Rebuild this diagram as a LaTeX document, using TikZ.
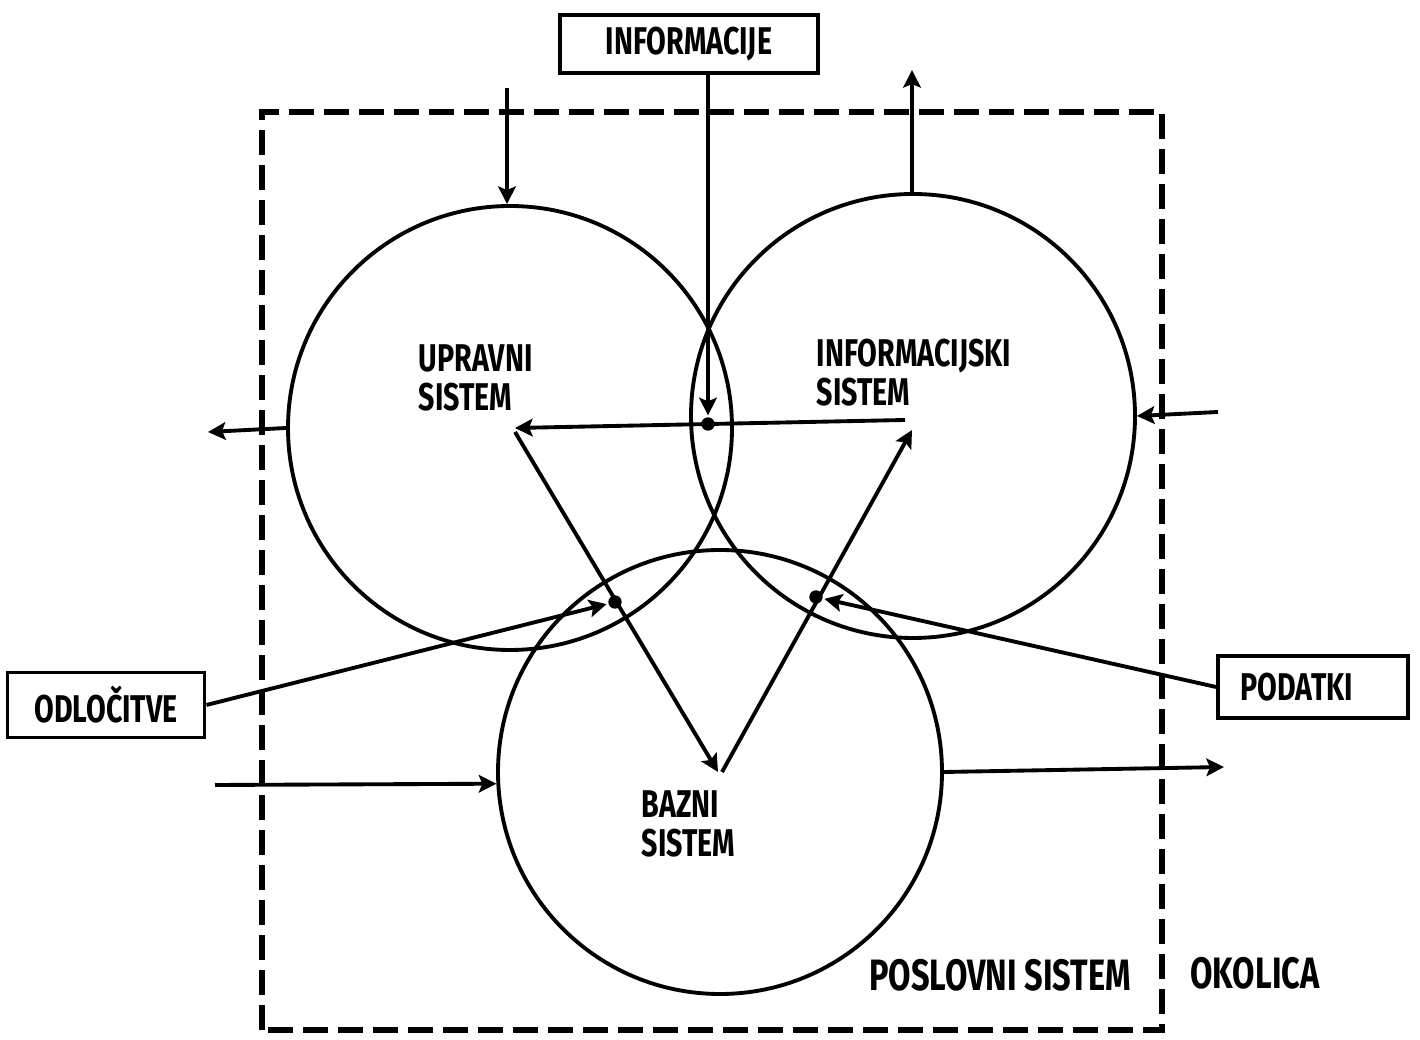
\documentclass[tikz,border=0pt]{standalone}
\usepackage{fontspec}
\newfontfamily\hand[FakeStretch=0.74]{Fira Sans}
\usepackage{tikz}
\usetikzlibrary{shapes,arrows,arrows.meta,positioning,calc}
\tikzset{
sys/.style = {draw, circle, minimum size=4.44cm, inner sep=0pt},
box/.style = {draw, fill=white, rectangle, font=\hand\bfseries\fontsize{11}{12}\selectfont},
lbl/.style = {align=left, inner sep=0pt, anchor=north west, font=\hand\bfseries\fontsize{11}{11}\selectfont},
dot/.style = {circle, fill, inner sep=0pt, minimum size=3.8pt},
env/.style = {draw, line width=1.5pt, dash pattern=on 0.25cm off 0.1cm},
tmp/.style = {coordinate}
}

\begin{document}
\begin{tikzpicture}[auto, >={Stealth[length=5pt,width=5pt,inset=1pt]}, line width=1.1pt]
    \useasboundingbox (0,0) rectangle (14.2,10.39);
    \draw[env] (2.62,0.09) rectangle (11.62,9.27);

    \node [sys] (upr) at (5.10,6.11) {};
    \node [sys] (inf) at (9.13,6.23) {};
    \node [sys] (baz) at (7.20,2.67) {};

    \node [lbl] (uprlabel) at (4.17,6.96) {UPRAVNI\\SISTEM};
    \node [lbl] (inflabel) at (8.15,7.02) {INFORMACIJSKI\\SISTEM};
    \node [lbl] (bazlabel) at (6.40,2.50) {BAZNI\\SISTEM};
    \node [lbl, anchor=center, font=\hand\bfseries\fontsize{12.5}{13}\selectfont] (posl) at (10.00,0.64) {POSLOVNI SISTEM};
    \node [lbl, anchor=center, font=\hand\bfseries\fontsize{12.5}{13}\selectfont] (okol) at (12.55,0.66) {OKOLICA};

    \node [box, minimum width=2.58cm, minimum height=0.58cm] (info) at (6.89,9.95) {INFORMACIJE};
    \node [box, minimum width=1.97cm, minimum height=0.65cm] (odl) at (1.06,3.34) {ODLOČITVE};
    \node [box, minimum width=1.90cm, minimum height=0.62cm, text width=1.45cm, align=left] (pod) at (13.13,3.52) {PODATKI};

    \node [dot] (d1) at (7.08,6.15) {};
    \node [dot] (d2) at (6.15,4.37) {};
    \node [dot] (d3) at (8.16,4.42) {};

    \node [tmp] (pu) at (5.15,6.11) {};
    \node [tmp] (pu2) at (5.15,6.07) {};
    \node [tmp] (pi) at (9.05,6.19) {};
    \node [tmp] (pi2) at (9.12,6.09) {};
    \node [tmp] (pb) at (7.18,2.67) {};
    \node [tmp] (pb2) at (7.22,2.67) {};

    \node [tmp] (topin) at (5.07,9.51) {};
    \node [tmp] (topout) at (9.12,9.69) {};
    \node [tmp] (leftout) at (2.08,6.07) {};
    \node [tmp] (rightin) at (12.18,6.27) {};
    \node [tmp] (bazin) at (2.15,2.54) {};
    \node [tmp] (bazout) at (12.24,2.72) {};

    \draw [->] (topin) -- (topin |- upr.north);
    \draw [->] (inf.north -| topout) -- (topout);
    \draw [->] (upr.west) -- (leftout);
    \draw [->] (rightin) -- (inf.east);
    \draw [->] (bazin) -- (baz.183);
    \draw [->] (baz.east) -- (bazout);

    \draw [->] (info.south -| d1) -- (d1);
    \draw [->] (pi) -- (pu);
    \draw [->] (pu2) -- (pb);
    \draw [->] (pb2) -- (pi2);
    \draw [->] (odl.east) -- (d2);
    \draw [->] (pod.west) -- (d3);
\end{tikzpicture}
\end{document}
